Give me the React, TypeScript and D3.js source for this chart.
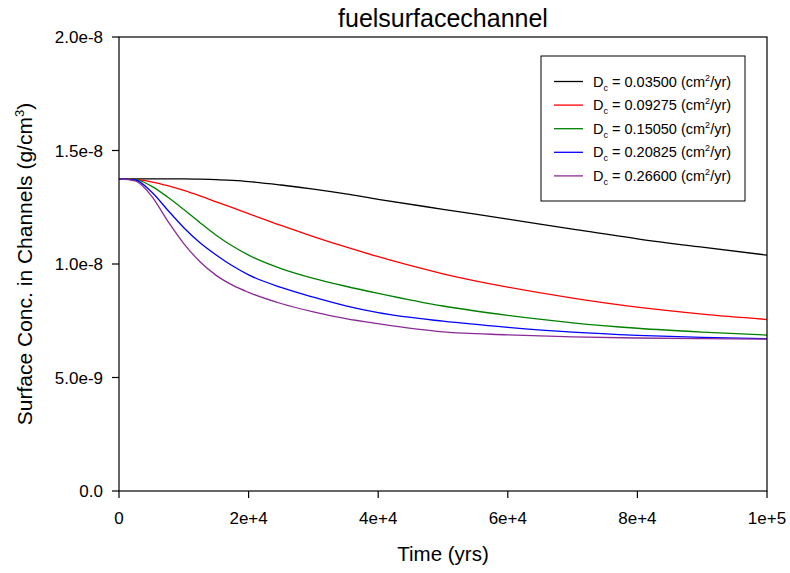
import React from "react";
import * as d3 from "d3";

const times = [0, 2500, 5000, 7500, 10000, 12500, 15000, 17500, 20000, 25000, 30000, 35000, 40000, 50000, 60000, 70000, 80000, 90000, 100000];

const dc03500 = [1.375, 1.375, 1.375, 1.375, 1.375, 1.374, 1.372, 1.368, 1.363, 1.348, 1.330, 1.309, 1.285, 1.241, 1.198, 1.154, 1.111, 1.074, 1.039];
const dc09275 = [1.375, 1.373, 1.362, 1.345, 1.324, 1.300, 1.274, 1.248, 1.222, 1.170, 1.121, 1.075, 1.032, 0.957, 0.898, 0.850, 0.810, 0.779, 0.7555];
const dc15050 = [1.375, 1.373, 1.343, 1.295, 1.240, 1.182, 1.127, 1.079, 1.039, 0.980, 0.937, 0.902, 0.871, 0.815, 0.774, 0.741, 0.717, 0.700, 0.687];
const dc20825 = [1.375, 1.370, 1.318, 1.238, 1.160, 1.094, 1.040, 0.992, 0.952, 0.897, 0.854, 0.816, 0.786, 0.748, 0.721, 0.700, 0.686, 0.677, 0.671];
const dc26600 = [1.375, 1.366, 1.300, 1.190, 1.090, 1.010, 0.950, 0.907, 0.875, 0.826, 0.789, 0.759, 0.737, 0.701, 0.688, 0.679, 0.674, 0.671, 0.669];

const seriesValues = [dc03500, dc09275, dc15050, dc20825, dc26600];
const dcLabels = ["0.03500", "0.09275", "0.15050", "0.20825", "0.26600"];
const colors = ["#000000", "#ff0000", "#008000", "#0000ff", "#8a2a96"];

const xTicks = [0, 20000, 40000, 60000, 80000, 100000];
const xTickLabels = ["0", "2e+4", "4e+4", "6e+4", "8e+4", "1e+5"];
const yTicks = [0, 0.5, 1.0, 1.5, 2.0];
const yTickLabels = ["0.0", "5.0e-9", "1.0e-8", "1.5e-8", "2.0e-8"];

const W = 790, H = 573;
const L = 119, R = 767, T = 37, B = 491;
const FONT = "Arial, 'Liberation Sans', Helvetica, sans-serif";

export default function App() {
  const x = d3.scaleLinear().domain([0, 100000]).range([L, R]);
  const y = d3.scaleLinear().domain([0, 2.0]).range([B, T]);
  const line = d3.line<[number, number]>()
    .x(d => x(d[0]))
    .y(d => y(d[1]))
    .curve(d3.curveMonotoneX);

  const legX = 541, legY = 56, legW = 204, legH = 145;
  const rowY0 = 81.5, rowDy = 23.6;

  return (
    <svg width={W} height={H} style={{ position: "absolute", left: 0, top: 0, background: "#fff" }} fontFamily={FONT}>
      <rect x={0} y={0} width={W} height={H} fill="#fff" />
      <text x={(L + R) / 2} y={27} textAnchor="middle" fontSize={25}>fuelsurfacechannel</text>

      {seriesValues.map((vals, i) => (
        <path key={i} d={line(times.map((t, j) => [t, vals[j]]) as [number, number][]) || ""}
          fill="none" stroke={colors[i]} strokeWidth={1.3} />
      ))}

      <rect x={L} y={T} width={R - L} height={B - T} fill="none" stroke="#000" strokeWidth={1.2} />

      {xTicks.map((t, i) => (
        <g key={"x" + i}>
          <line x1={x(t)} x2={x(t)} y1={B} y2={B + 7} stroke="#000" strokeWidth={1.2} />
          <text x={x(t)} y={523.5} textAnchor="middle" fontSize={17}>{xTickLabels[i]}</text>
        </g>
      ))}
      {yTicks.map((v, i) => (
        <g key={"y" + i}>
          <line x1={L - 7} x2={L} y1={y(v)} y2={y(v)} stroke="#000" strokeWidth={1.2} />
          <text x={103} y={y(v) + 6} textAnchor="end" fontSize={17}>{yTickLabels[i]}</text>
        </g>
      ))}

      <text x={(L + R) / 2} y={561} textAnchor="middle" fontSize={20.5}>Time (yrs)</text>
      <text transform={`translate(32,${(T + B) / 2}) rotate(-90)`} textAnchor="middle" fontSize={21}>
        Surface Conc. in Channels (g/cm<tspan dy={-8} fontSize={13}>3</tspan><tspan dy={8}>)</tspan>
      </text>

      <rect x={legX} y={legY} width={legW} height={legH} fill="#fff" stroke="#000" strokeWidth={1} />
      {dcLabels.map((lab, i) => {
        const cy = rowY0 + i * rowDy;
        return (
          <g key={"leg" + i}>
            <line x1={554} x2={583} y1={cy} y2={cy} stroke={colors[i]} strokeWidth={1.3} />
            <text x={593} y={cy + 5} fontSize={14.5}>
              D<tspan dy={4} fontSize={9}>c</tspan><tspan dy={-4}>{` = ${lab} (cm`}</tspan><tspan dy={-6} fontSize={9}>2</tspan><tspan dy={6}>/yr)</tspan>
            </text>
          </g>
        );
      })}
    </svg>
  );
}
